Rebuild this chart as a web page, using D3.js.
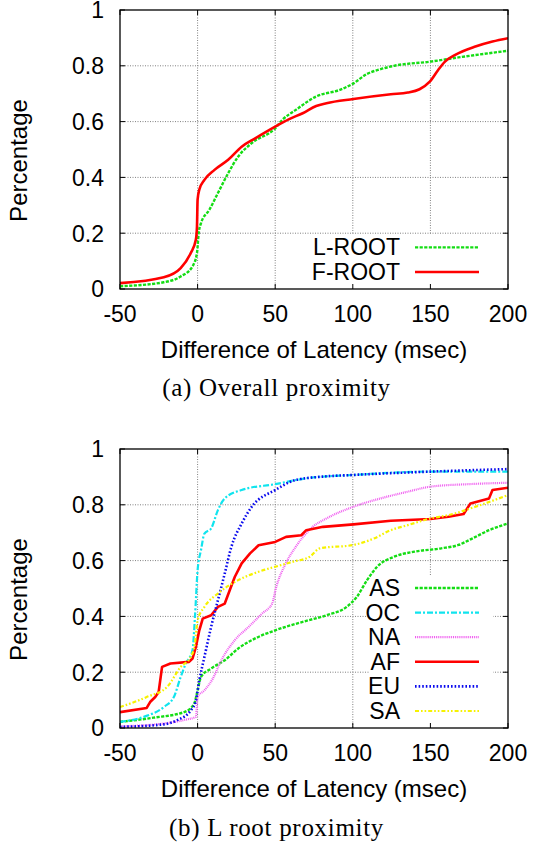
<!DOCTYPE html>
<html>
<head>
<meta charset="utf-8">
<script src="https://cdn.jsdelivr.net/npm/d3@7"></script>
<style>
  body { margin: 0; background: #fff; }
  svg { display: block; }
</style>
</head>
<body>
<svg id="fig" width="533" height="845"></svg>
<script>
// tick values shared by both panels
const xTicks = [-50, 0, 50, 100, 150, 200];
const yTicks = [0, 0.2, 0.4, 0.6, 0.8, 1];
const yTickLabels = ['0', '0.2', '0.4', '0.6', '0.8', '1'];

// (a) overall proximity, [latency diff, cdf]
const lRoot = [[-50, 0.01], [-21.8, 0.024], [-10.9, 0.045], [-3.3, 0.081], [-0.4, 0.129],
  [0.7, 0.2], [2.2, 0.236], [7.6, 0.284], [13.1, 0.344], [19.7, 0.415], [26.2, 0.475],
  [34.9, 0.523], [50, 0.576], [54.6, 0.606], [63.3, 0.642], [76.4, 0.69], [91.7, 0.714],
  [100.4, 0.737], [109.2, 0.771], [118, 0.788], [126.6, 0.8], [150, 0.815], [168, 0.83], [200, 0.854]];
const fRoot = [[-50, 0.021], [-21.8, 0.042], [-10.9, 0.075], [-4.4, 0.129], [-1.1, 0.177],
  [-0.4, 0.224], [0, 0.32], [1.1, 0.356], [4.4, 0.391], [10.9, 0.427], [19.7, 0.463],
  [28.4, 0.51], [37.1, 0.54], [50, 0.582], [59, 0.609], [67.7, 0.63], [76.4, 0.656],
  [83, 0.666], [100.4, 0.681], [124.5, 0.698], [135.4, 0.704], [143, 0.716], [149.6, 0.743],
  [155, 0.785], [159.4, 0.815], [166, 0.839], [179, 0.869], [190, 0.887], [200, 0.899]];

// (b) L root proximity per region
const asData = [[-50, 0.022], [-28.4, 0.037], [-8.7, 0.057], [-2.2, 0.087], [0, 0.135],
  [2.2, 0.183], [8.7, 0.213], [17.5, 0.243], [26.2, 0.285], [37.1, 0.321], [50, 0.35],
  [70, 0.384], [83, 0.404], [96, 0.434], [102.6, 0.47], [109.2, 0.53], [115.7, 0.578],
  [126.6, 0.614], [139.7, 0.632], [157, 0.644], [168, 0.656], [176.9, 0.679], [187.8, 0.709], [200, 0.733]];
const ocData = [[-50, 0.022], [-34.7, 0.04], [-21.8, 0.075], [-15.3, 0.111], [-10.9, 0.183],
  [-7.6, 0.231], [-3.3, 0.279], [-1.7, 0.398], [0, 0.566], [2.2, 0.638], [4.4, 0.697],
  [8.7, 0.715], [13.1, 0.781], [17.5, 0.823], [28.4, 0.853], [50, 0.874], [70, 0.895],
  [100.4, 0.907], [150, 0.919], [200, 0.919]];
const naData = [[-50, 0.006], [-21.8, 0.016], [-7.6, 0.03], [-1.1, 0.04], [0, 0.111],
  [4.4, 0.135], [9.8, 0.177], [15.3, 0.243], [24, 0.315], [32.8, 0.362], [41.5, 0.41],
  [48, 0.446], [50.7, 0.506], [56.8, 0.59], [63.3, 0.65], [74.2, 0.721], [83, 0.751],
  [100.4, 0.793], [118, 0.823], [135.4, 0.847], [150, 0.865], [174.7, 0.874], [200, 0.879]];
const afData = [[-50, 0.057], [-32.8, 0.072], [-30.6, 0.093], [-27.3, 0.111], [-25.1, 0.129],
  [-22.9, 0.219], [-17.5, 0.231], [-5.5, 0.237], [-3.3, 0.249], [-1.1, 0.291], [1.1, 0.35],
  [3.3, 0.392], [8.7, 0.404], [13.1, 0.434], [17.5, 0.446], [20.7, 0.494], [24, 0.542],
  [28.4, 0.59], [33.8, 0.626], [39.3, 0.655], [50, 0.667], [57, 0.685], [66.8, 0.691],
  [70, 0.709], [80.8, 0.721], [100.4, 0.73], [124.5, 0.743], [150, 0.749], [161.6, 0.757],
  [171.4, 0.767], [175.8, 0.805], [187.8, 0.823], [190, 0.853], [200, 0.861]];
const euData = [[-50, 0.004], [-21.8, 0.013], [-13.1, 0.028], [-4.4, 0.063], [-1.1, 0.099],
  [1.1, 0.171], [4.4, 0.255], [8.7, 0.362], [13.1, 0.458], [17.5, 0.554], [21.8, 0.65],
  [28.4, 0.733], [34.9, 0.793], [50, 0.853], [63.3, 0.889], [80.8, 0.901], [100.4, 0.907],
  [150, 0.919], [200, 0.928]];
const saData = [[-50, 0.075], [-32.8, 0.111], [-19.7, 0.147], [-10.9, 0.219], [-4.4, 0.255],
  [-1.7, 0.303], [0, 0.386], [4.4, 0.434], [13.1, 0.482], [26.2, 0.53], [39.3, 0.56],
  [50, 0.578], [61.4, 0.596], [72.3, 0.614], [78.8, 0.644], [100.4, 0.656], [113.5, 0.679],
  [124.5, 0.709], [135.4, 0.727], [150, 0.751], [161.6, 0.763], [179, 0.793], [200, 0.835]];

const STYLES = {
  green: { color: '#14dd14', dash: '3.2,1.4', width: 2.4 },
  red: { color: '#ff0000', dash: null, width: 2.6 },
  cyan: { color: '#10e4ee', dash: '6,2,2,2', width: 2.2 },
  magenta: { color: '#f060f0', dash: '1,0.9', width: 2.2 },
  blue: { color: '#0a0aee', dash: '1.6,2', width: 2.6 },
  yellow: { color: '#f6f200', dash: '4,2,1.6,2,1.6,2', width: 2.2 },
};

const panels = [
  {
    top: 10, bottom: 289, caption: '(a) Overall proximity', captionY: 396,
    legendBox: [314, 482],
    series: [
      { name: 'L-ROOT', data: lRoot, style: STYLES.green, curve: d3.curveMonotoneX },
      { name: 'F-ROOT', data: fRoot, style: STYLES.red, curve: d3.curveMonotoneX },
    ],
  },
  {
    top: 449, bottom: 728, caption: '(b) L root proximity', captionY: 836,
    legendBox: [370, 493],
    series: [
      { name: 'AS', data: asData, style: STYLES.green, curve: d3.curveMonotoneX },
      { name: 'OC', data: ocData, style: STYLES.cyan, curve: d3.curveMonotoneX },
      { name: 'NA', data: naData, style: STYLES.magenta, curve: d3.curveMonotoneX },
      { name: 'AF', data: afData, style: STYLES.red, curve: d3.curveLinear },
      { name: 'EU', data: euData, style: STYLES.blue, curve: d3.curveMonotoneX },
      { name: 'SA', data: saData, style: STYLES.yellow, curve: d3.curveMonotoneX },
    ],
  },
];

const LEFT = 120;
const RIGHT = 508;
const SANS = '"Liberation Sans", Arial, Helvetica, sans-serif';
const SERIF = '"Liberation Serif", "Times New Roman", serif';
const ROW = 24.6;

const svg = d3.select('#fig');

const drawPanel = (p, idx) => {
  const x = d3.scaleLinear().domain([-50, 200]).range([LEFT, RIGHT]);
  const y = d3.scaleLinear().domain([0, 1]).range([p.bottom, p.top]);
  const g = svg.append('g');
  const n = p.series.length;
  const legTop = p.bottom - 17 - (n - 1) * ROW - 12.5;

  // dotted grid
  const grid = g.append('g')
    .attr('stroke', '#808080')
    .attr('stroke-width', 1)
    .attr('stroke-dasharray', '1,1.5');
  grid.selectAll('line.gx')
    .data(xTicks.slice(1, -1))
    .enter()
    .append('line')
    .attr('x1', (d) => x(d)).attr('x2', (d) => x(d))
    .attr('y1', p.top).attr('y2', p.bottom);
  grid.selectAll('line.gy')
    .data(yTicks.slice(1, -1))
    .enter()
    .append('line')
    .attr('x1', LEFT).attr('x2', RIGHT)
    .attr('y1', (d) => y(d)).attr('y2', (d) => y(d));

  // key area hides the grid
  g.append('rect')
    .attr('x', p.legendBox[0])
    .attr('y', legTop)
    .attr('width', p.legendBox[1] - p.legendBox[0])
    .attr('height', p.bottom - legTop)
    .attr('fill', '#fff');

  // ticks on all four sides
  const tk = g.append('g').attr('stroke', '#000').attr('stroke-width', 1);
  xTicks.forEach((v) => {
    tk.append('line').attr('x1', x(v)).attr('x2', x(v)).attr('y1', p.bottom).attr('y2', p.bottom - 5);
    tk.append('line').attr('x1', x(v)).attr('x2', x(v)).attr('y1', p.top).attr('y2', p.top + 5);
  });
  yTicks.forEach((v) => {
    tk.append('line').attr('x1', LEFT).attr('x2', LEFT + 5).attr('y1', y(v)).attr('y2', y(v));
    tk.append('line').attr('x1', RIGHT).attr('x2', RIGHT - 5).attr('y1', y(v)).attr('y2', y(v));
  });

  // curves
  const clipId = `clip${idx}`;
  g.append('clipPath').attr('id', clipId)
    .append('rect')
    .attr('x', LEFT).attr('y', p.top)
    .attr('width', RIGHT - LEFT).attr('height', p.bottom - p.top);

  const curves = g.append('g').attr('clip-path', `url(#${clipId})`);
  p.series.forEach((s) => {
    const line = d3.line()
      .x((d) => x(d[0]))
      .y((d) => y(d[1]))
      .curve(s.curve);
    curves.append('path')
      .datum(s.data)
      .attr('d', line)
      .attr('fill', 'none')
      .attr('stroke', s.style.color)
      .attr('stroke-width', s.style.width)
      .attr('stroke-dasharray', s.style.dash)
      .attr('stroke-linejoin', 'round');
  });

  // border
  g.append('rect')
    .attr('x', LEFT).attr('y', p.top)
    .attr('width', RIGHT - LEFT).attr('height', p.bottom - p.top)
    .attr('fill', 'none')
    .attr('stroke', '#000')
    .attr('stroke-width', 1.3);

  // key
  const key = g.append('g');
  p.series.forEach((s, i) => {
    const ky = p.bottom - 17 - (n - 1 - i) * ROW;
    key.append('text')
      .attr('x', 400).attr('y', ky + 8)
      .attr('text-anchor', 'end')
      .style('font-family', SANS)
      .style('font-size', '23px')
      .text(s.name);
    key.append('line')
      .attr('x1', 415).attr('x2', 479)
      .attr('y1', ky).attr('y2', ky)
      .attr('stroke', s.style.color)
      .attr('stroke-width', s.style.width)
      .attr('stroke-dasharray', s.style.dash);
  });

  // tick labels
  g.selectAll('text.xt')
    .data(xTicks)
    .enter()
    .append('text')
    .attr('x', (d) => x(d))
    .attr('y', p.bottom + 33)
    .attr('text-anchor', 'middle')
    .style('font-family', SANS)
    .style('font-size', '23px')
    .text((d) => d);
  g.selectAll('text.yt')
    .data(yTicks)
    .enter()
    .append('text')
    .attr('x', 104)
    .attr('y', (d) => y(d) + 8.3)
    .attr('text-anchor', 'end')
    .style('font-family', SANS)
    .style('font-size', '23px')
    .text((d, i) => yTickLabels[i]);

  // axis titles
  g.append('text')
    .attr('x', (LEFT + RIGHT) / 2)
    .attr('y', p.bottom + 69)
    .attr('text-anchor', 'middle')
    .style('font-family', SANS)
    .style('font-size', '24px')
    .text('Difference of Latency (msec)');
  g.append('text')
    .attr('transform', `translate(27,${(p.top + p.bottom) / 2 + 11})rotate(-90)`)
    .attr('text-anchor', 'middle')
    .style('font-family', SANS)
    .style('font-size', '24px')
    .text('Percentage');

  // caption
  g.append('text')
    .attr('x', 276.5)
    .attr('y', p.captionY)
    .attr('text-anchor', 'middle')
    .style('font-family', SERIF)
    .style('font-size', '25px')
    .style('letter-spacing', '0.7px')
    .text(p.caption);
};

panels.forEach(drawPanel);
</script>
</body>
</html>
